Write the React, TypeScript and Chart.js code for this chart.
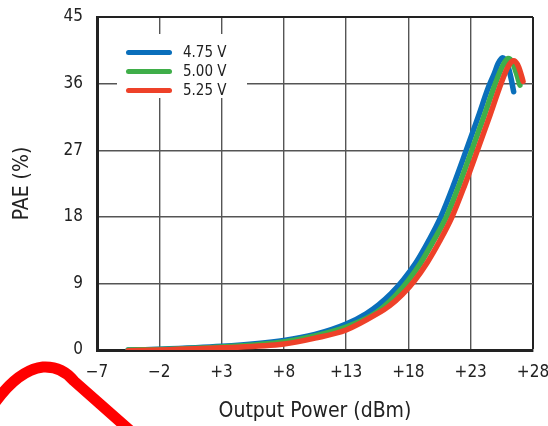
import React, { useEffect, useRef } from "react";
import { Chart, registerables } from "chart.js";

Chart.register(...registerables);

const seriesLabels = ["4.75 V", "5.00 V", "5.25 V"];
const seriesColors = ["#0a6fbb", "#3fae49", "#ee4129"];

const powerA = [-4.5, -2, 3, 8, 10.5, 13, 14.6, 15.6, 16.6, 17.6, 18.6, 19.6, 20.6, 21.6, 22.6, 23.6, 24.4, 24.9, 25.2, 25.55, 25.9, 26.2, 26.45];
const paeA = [0, 0.1, 0.5, 1.3, 2.1, 3.5, 4.9, 6.1, 7.6, 9.5, 11.8, 14.7, 18, 22.2, 26.8, 31.5, 35.4, 37.4, 38.7, 39.5, 38.8, 37, 34.9];

const powerB = [-4.5, -2, 3, 8, 10.5, 13, 15, 16, 17, 18, 19, 20, 21.05, 22.05, 23.05, 24.05, 24.85, 25.35, 25.7, 26.0, 26.35, 26.65, 26.95];
const paeB = [0, 0.08, 0.42, 1.1, 1.9, 3.1, 4.6, 5.8, 7.4, 9.4, 11.8, 14.7, 18, 22.2, 26.8, 31.5, 35.4, 37.6, 38.8, 39.4, 38.9, 37.5, 35.8];

const powerC = [-4.5, -2, 3, 8, 10.5, 13, 15.5, 16.5, 17.5, 18.5, 19.5, 20.5, 21.5, 22.5, 23.5, 24.5, 25.3, 25.8, 26.15, 26.45, 26.75, 27.0, 27.2];
const paeC = [-0.1, 0, 0.3, 0.8, 1.6, 2.7, 4.9, 6.0, 7.5, 9.4, 11.8, 14.7, 18, 22.2, 26.8, 31.5, 35.4, 37.6, 38.7, 39.1, 38.6, 37.5, 36.3];

const xTicks = [-7, -2, 3, 8, 13, 18, 23, 28];
const yTicks = [0, 9, 18, 27, 36, 45];

const FONT = "'Liberation Sans Narrow', 'DejaVu Sans Condensed', 'Liberation Sans', sans-serif";

const zip = (xs: number[], ys: number[]) => xs.map((x, i) => ({ x, y: ys[i] }));

export default function App() {
  const ref = useRef<HTMLCanvasElement | null>(null);

  useEffect(() => {
    if (!ref.current) return;
    const series = [zip(powerA, paeA), zip(powerB, paeB), zip(powerC, paeC)];
    const chart = new Chart(ref.current, {
      type: "line",
      data: {
        datasets: series.map((d, i) => ({
          label: seriesLabels[i],
          data: d,
          borderColor: seriesColors[i],
          backgroundColor: seriesColors[i],
          borderWidth: 5.5,
          pointRadius: 0,
          cubicInterpolationMode: "monotone" as const,
          borderCapStyle: "round" as const,
          borderJoinStyle: "round" as const,
          fill: false,
          order: 2 - i,
        })),
      },
      options: {
        responsive: false,
        animation: false,
        devicePixelRatio: 1,
        layout: { padding: { left: 0, top: 17, right: 15, bottom: 0 } },
        plugins: {
          legend: { display: false },
          tooltip: { enabled: false },
        },
        scales: {
          x: {
            type: "linear",
            min: xTicks[0],
            max: xTicks[xTicks.length - 1],
            afterBuildTicks: (s: any) => {
              s.ticks = xTicks.map((v) => ({ value: v }));
            },
            afterFit: (s: any) => {
              s.height = 76;
              s.paddingLeft = 0;
              s.paddingRight = 0;
              s.paddingTop = 0;
              s.paddingBottom = 0;
            },
            ticks: {
              color: "#222",
              font: { family: FONT, size: 17 },
              padding: 12,
              maxRotation: 0,
              autoSkip: false,
              callback: (v: any) => (v < 0 ? "\u2212" + Math.abs(v) : v > 0 ? "+" + v : "0"),
            },
            grid: {
              drawTicks: false,
              color: (c: any) => (c.index === xTicks.length - 1 ? "#222" : "#555"),
              lineWidth: (c: any) => (c.index === xTicks.length - 1 ? 2 : 1.4),
            },
            border: { display: true, color: "#222", width: 3 },
            title: {
              display: true,
              text: "Output Power (dBm)",
              color: "#222",
              font: { family: FONT, size: 21 },
              padding: { top: 0, bottom: 2 },
            },
          },
          y: {
            type: "linear",
            min: yTicks[0],
            max: yTicks[yTicks.length - 1],
            afterBuildTicks: (s: any) => {
              s.ticks = yTicks.map((v) => ({ value: v }));
            },
            afterFit: (s: any) => {
              s.width = 97;
              s.paddingLeft = 0;
              s.paddingRight = 0;
              s.paddingTop = 0;
              s.paddingBottom = 0;
            },
            ticks: {
              color: "#222",
              font: { family: FONT, size: 17 },
              padding: 14,
              autoSkip: false,
            },
            grid: {
              drawTicks: false,
              color: (c: any) => (c.index === yTicks.length - 1 ? "#222" : "#555"),
              lineWidth: (c: any) => (c.index === yTicks.length - 1 ? 2 : 1.4),
            },
            border: { display: true, color: "#222", width: 3 },
            title: {
              display: true,
              text: "PAE (%)",
              color: "#222",
              font: { family: FONT, size: 21 },
              padding: { top: 10, bottom: 0 },
            },
          },
        },
      },
    });
    return () => chart.destroy();
  }, []);

  return (
    <div style={{ position: "absolute", left: 0, top: 0, width: 548, height: 426, background: "#fff", overflow: "hidden" }}>
      <canvas ref={ref} width={548} height={426} style={{ width: 548, height: 426, display: "block" }} />
      <div
        style={{
          position: "absolute",
          left: 117,
          top: 34,
          width: 130,
          height: 64,
          background: "#fff",
          fontFamily: FONT,
          fontSize: 15,
          color: "#222",
        }}
      >
        {seriesLabels.map((lab, i) => (
          <div key={lab} style={{ position: "absolute", left: 9, top: 9 + i * 19, height: 18, display: "flex", alignItems: "center" }}>
            <div style={{ width: 46, height: 5, borderRadius: 3, background: seriesColors[i], marginRight: 11 }} />
            <span style={{ lineHeight: "18px" }}>{lab}</span>
          </div>
        ))}
      </div>
      <svg width={548} height={426} style={{ position: "absolute", left: 0, top: 0, pointerEvents: "none" }}>
        <path
          d="M -6 404 Q 18 370 43 367 Q 62 366 74 381 L 134 434"
          fill="none"
          stroke="#ff0000"
          strokeWidth={11}
          strokeLinecap="round"
          strokeLinejoin="round"
        />
      </svg>
    </div>
  );
}
